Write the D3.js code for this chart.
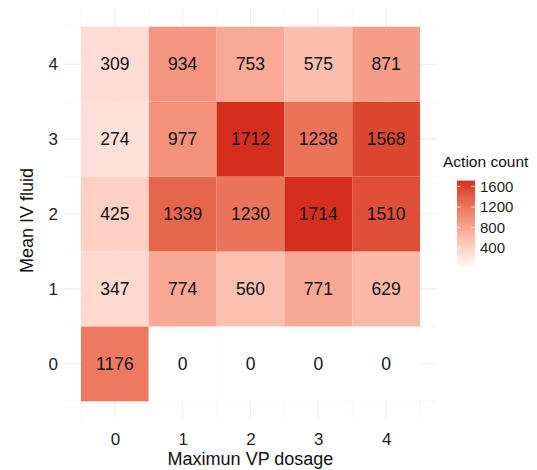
<!DOCTYPE html>
<html><head><meta charset="utf-8">
<script src="https://cdn.jsdelivr.net/npm/d3@7"></script>
<style>body{margin:0;background:#fff}svg{display:block;font-family:"Liberation Sans",Arial,sans-serif}</style>
</head><body>
<script>
const vpDosage = [0, 1, 2, 3, 4];
const ivFluid = [0, 1, 2, 3, 4];
// counts[row = ivFluid][col = vpDosage]
const row0 = [1176, 0, 0, 0, 0];
const row1 = [347, 774, 560, 771, 629];
const row2 = [425, 1339, 1230, 1714, 1510];
const row3 = [274, 977, 1712, 1238, 1568];
const row4 = [309, 934, 753, 575, 871];
const legendTicks = [400, 800, 1200, 1600];
const xTitle = "Maximun VP dosage", yTitle = "Mean IV fluid", legendTitle = "Action count";

const rows = [row0, row1, row2, row3, row4];
const cells = [];
ivFluid.forEach((iv, i) => vpDosage.forEach((vp, j) => cells.push({vp, iv, n: rows[i][j]})));

const W = 537, H = 470;
const svg = d3.select("body").append("svg").attr("width", W).attr("height", H);
const x = d3.scaleLinear().domain([-0.75, 4.75]).range([64, 437]);
const y = d3.scaleLinear().domain([-0.75, 4.75]).range([420, 8]);
const maxN = d3.max(cells, d => d.n);
const color = d3.scaleLinear().domain([0, maxN]).range(["#ffffff", "#d52e1e"]).interpolate(d3.interpolateLab);

// grid
const g = svg.append("g");
const minor = d3.range(-0.5, 5, 1);
g.selectAll(".mx").data(minor).join("line").attr("x1", d => x(d)).attr("x2", d => x(d)).attr("y1", y(-0.75)).attr("y2", y(4.75)).attr("stroke", "#f3f3f3").attr("stroke-width", 0.6);
g.selectAll(".my").data(minor).join("line").attr("y1", d => y(d)).attr("y2", d => y(d)).attr("x1", x(-0.75)).attr("x2", x(4.75)).attr("stroke", "#f3f3f3").attr("stroke-width", 0.6);
g.selectAll(".Mx").data(vpDosage).join("line").attr("x1", d => x(d)).attr("x2", d => x(d)).attr("y1", y(-0.75)).attr("y2", y(4.75)).attr("stroke", "#eeeeee").attr("stroke-width", 1.1);
g.selectAll(".My").data(ivFluid).join("line").attr("y1", d => y(d)).attr("y2", d => y(d)).attr("x1", x(-0.75)).attr("x2", x(4.75)).attr("stroke", "#eeeeee").attr("stroke-width", 1.1);

// tiles
svg.append("g").selectAll("rect").data(cells).join("rect")
  .attr("x", d => x(d.vp - 0.5)).attr("y", d => y(d.iv + 0.5))
  .attr("width", x(0.5) - x(-0.5)).attr("height", y(-0.5) - y(0.5))
  .attr("fill", d => color(d.n));
svg.append("g").selectAll("text").data(cells).join("text")
  .attr("x", d => x(d.vp)).attr("y", d => y(d.iv)).attr("dy", "0.35em")
  .attr("text-anchor", "middle").attr("font-size", 17.5).attr("fill", "#111")
  .text(d => d.n);

// axes
const xa = svg.append("g").attr("transform", `translate(0,${y(-0.75)})`)
  .call(d3.axisBottom(x).tickValues(vpDosage).tickSize(0).tickPadding(13).tickFormat(d3.format("d")));
const ya = svg.append("g").attr("transform", `translate(${x(-0.75)},0)`)
  .call(d3.axisLeft(y).tickValues(ivFluid).tickSize(0).tickPadding(6).tickFormat(d3.format("d")));
[xa, ya].forEach(a => { a.select(".domain").remove(); a.selectAll("text").attr("font-size", 17).attr("fill", "#1e1e1e").attr("font-family", "Liberation Sans, Arial, sans-serif"); });

svg.append("text").attr("x", (x(-0.75) + x(4.75)) / 2).attr("y", 465).attr("text-anchor", "middle").attr("font-size", 18).attr("fill", "#111").text(xTitle);
svg.append("text").attr("transform", `translate(33,220.5) rotate(-90)`).attr("text-anchor", "middle").attr("font-size", 18).attr("fill", "#111").text(yTitle);

// legend
const lx = 457, lw = 18;
const ly = d3.scaleLinear().domain([0, maxN]).range([268.5, 180.6]);
const defs = svg.append("defs");
const grad = defs.append("linearGradient").attr("id", "lg").attr("x1", 0).attr("x2", 0).attr("y1", 1).attr("y2", 0);
d3.range(0, 1.0001, 0.05).forEach(t => grad.append("stop").attr("offset", t).attr("stop-color", color(t * maxN)));
svg.append("rect").attr("x", lx).attr("y", ly(maxN)).attr("width", lw).attr("height", ly(0) - ly(maxN)).attr("fill", "url(#lg)");
legendTicks.forEach(v => {
  svg.append("line").attr("x1", lx).attr("x2", lx + 3.5).attr("y1", ly(v)).attr("y2", ly(v)).attr("stroke", "#fff").attr("stroke-width", 0.8);
  svg.append("line").attr("x1", lx + lw - 3.5).attr("x2", lx + lw).attr("y1", ly(v)).attr("y2", ly(v)).attr("stroke", "#fff").attr("stroke-width", 0.8);
});
svg.append("g").selectAll("text").data(legendTicks).join("text")
  .attr("x", 480).attr("y", d => ly(d)).attr("dy", "0.35em").attr("font-size", 15).attr("fill", "#1e1e1e").text(d => d);
svg.append("text").attr("x", 443).attr("y", 166.5).attr("font-size", 15.5).attr("fill", "#111").text(legendTitle);
</script>
</body></html>
